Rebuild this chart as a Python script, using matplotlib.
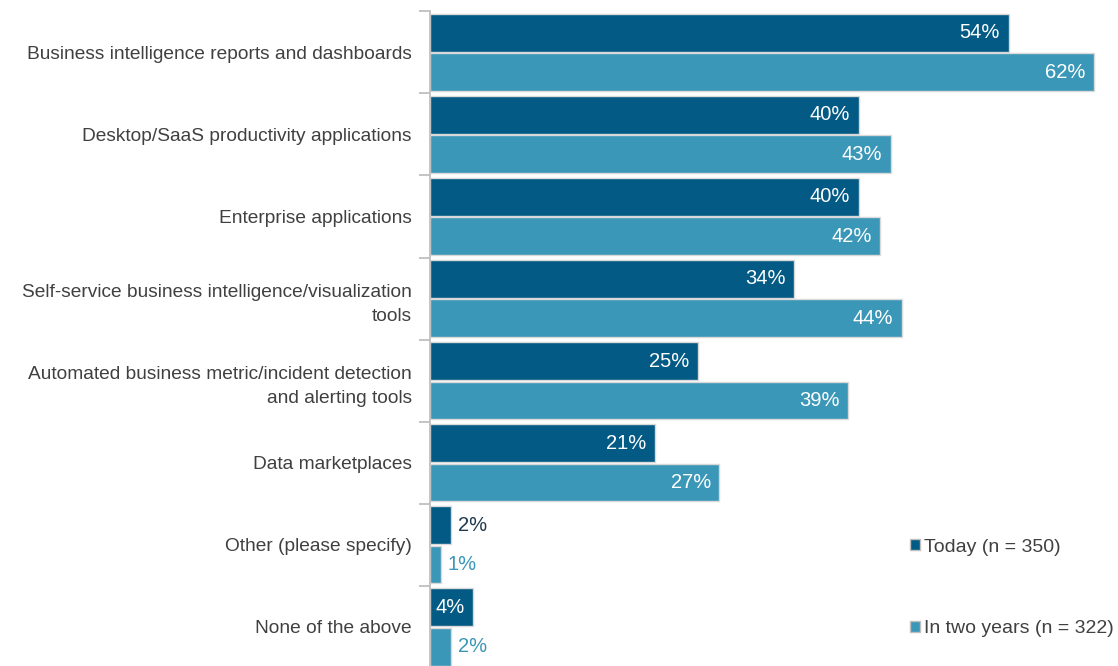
import numpy as np
import matplotlib
matplotlib.use('Agg')
from matplotlib import pyplot as plt
from matplotlib.patches import Patch

# 数据
categories = [
    'Business intelligence reports and dashboards',
    'Desktop/SaaS productivity applications',
    'Enterprise applications',
    'Self-service business intelligence/visualization\ntools',
    'Automated business metric/incident detection\nand alerting tools',
    'Data marketplaces',
    'Other (please specify)',
    'None of the above',
]
today = [54, 40, 40, 34, 25, 21, 2, 4]
two_years = [62, 43, 42, 44, 39, 27, 1, 2]
series_names = ['Today (n = 350)', 'In two years (n = 322)']

dark = '#035a85'
light = '#3b97b8'
text_gray = '#404040'

plt.rcParams['font.family'] = ['Liberation Sans', 'DejaVu Sans']

fig = plt.figure(figsize=(11.18, 6.66), dpi=100)
ax = fig.add_axes([430 / 1118, -0.003, 688 / 1118, 0.986])

y = np.arange(len(categories))
h = 0.46
off = 0.24

for vals, col, sgn in [(today, dark, -1), (two_years, light, 1)]:
    bars = ax.barh(y + sgn * off, vals, height=h, color=col,
                   edgecolor='#d9d9d9', linewidth=1.0)
    for b, v in zip(bars, vals):
        cy = b.get_y() + b.get_height() / 2
        if v >= 4:
            ax.text(v - 0.8, cy, f'{v}%', ha='right', va='center',
                    color='white', fontsize=14.5)
        else:
            ax.text(v + 0.6, cy, f'{v}%', ha='left', va='center',
                    color='#1f3a4d' if col == dark else light, fontsize=14.5)

ax.set_xlim(0, 64.2)
ax.set_ylim(len(categories) - 0.5, -0.5)

# y 轴：分组刻度
ax.set_yticks(np.arange(len(categories) + 1) - 0.5)
ax.set_yticklabels([])
ax.set_yticks(y, minor=True)
ax.set_yticklabels(categories, minor=True, fontsize=13.8, color=text_gray,
                   ha='right', linespacing=1.55)
ax.tick_params(axis='y', which='major', length=8, color='#bfbfbf', width=1.3)
ax.tick_params(axis='y', which='minor', length=0, pad=13)
ax.set_xticks([])

for s in ['top', 'right', 'bottom']:
    ax.spines[s].set_visible(False)
ax.spines['left'].set_color('#bfbfbf')
ax.spines['left'].set_linewidth(1.3)

handles = [Patch(facecolor=dark, edgecolor='#bfbfbf'),
           Patch(facecolor=light, edgecolor='#bfbfbf')]
ax.legend(handles, series_names, loc='center left',
          bbox_to_anchor=(480 / 688, 1 - 7.0 / 8 - 0.003), frameon=False,
          fontsize=14, labelcolor=text_gray, handlelength=0.5,
          handleheight=0.5, handletextpad=0.2, labelspacing=3.3,
          borderaxespad=0, borderpad=0)

fig.savefig('out.png', dpi=100)
